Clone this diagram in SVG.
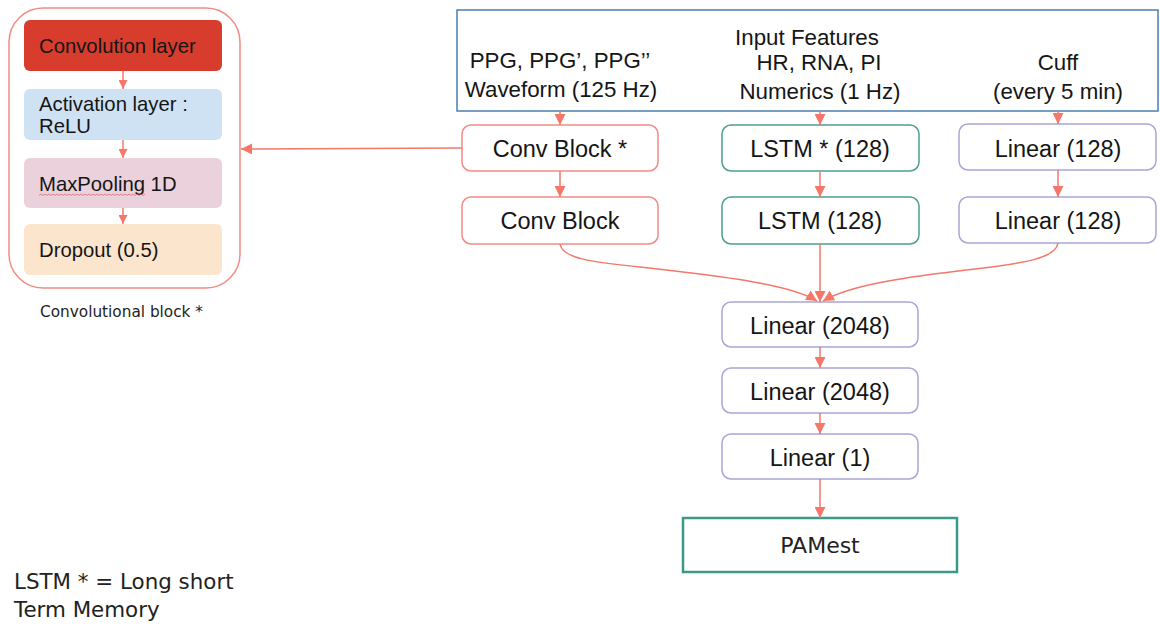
<svg xmlns="http://www.w3.org/2000/svg" width="1160" height="626" viewBox="0 0 1160 626">
<style>
text{font-family:"Liberation Sans",Arial,sans-serif;fill:#151515}
.geo{font-family:"DejaVu Sans","Liberation Sans",sans-serif;fill:#222}
.lbl{font-size:20.3px}
.box{font-size:23.5px;text-anchor:middle}
.inp{font-size:22.3px;text-anchor:middle}
.conv{fill:#fff;stroke:#f28b82;stroke-width:1.5}
.lstm{fill:#fff;stroke:#4d9e8f;stroke-width:1.5}
.lin{fill:#fff;stroke:#a9a5d8;stroke-width:1.5}
.edge{fill:none;stroke:#f4776a;stroke-width:1.5}
</style>
<defs>
<marker id="ah" markerUnits="userSpaceOnUse" markerWidth="11" markerHeight="11" refX="10" refY="5" orient="auto" viewBox="0 0 10 10">
<path d="M0,0 L10,5 L0,10 z" fill="#f4776a"/>
</marker>
<marker id="ahs" markerUnits="userSpaceOnUse" markerWidth="9" markerHeight="9" refX="10" refY="5" orient="auto" viewBox="0 0 10 10">
<path d="M0,0 L10,5 L0,10 z" fill="#f4776a"/>
</marker>
</defs>
<rect width="1160" height="626" fill="#fff"/>

<g id="conv-block-legend">
<rect x="9" y="8" width="231" height="280" rx="34" fill="#fff" stroke="#f28b82" stroke-width="1.5"/>
<g id="conv-layer"><rect x="24" y="20" width="198" height="51" rx="6" fill="#d83c2c"/><text class="lbl" x="39" y="53">Convolution layer</text></g>
<g id="act-layer"><rect x="24" y="89" width="198" height="51" rx="6" fill="#cfe2f3"/><text class="lbl" x="39" y="111">Activation layer :</text><text class="lbl" x="39" y="133">ReLU</text></g>
<g id="maxpool"><rect x="24" y="158" width="198" height="50" rx="6" fill="#ead1dc"/><text class="lbl" x="39" y="191">MaxPooling 1D</text>
<path d="M39,195.5 l2,-1.5 l2,1.5 l2,-1.5 l2,1.5 l2,-1.5 l2,1.5 l2,-1.5 l2,1.5 l2,-1.5 l2,1.5 l2,-1.5 l2,1.5 l2,-1.5 l2,1.5 l2,-1.5 l2,1.5 l2,-1.5 l2,1.5 l2,-1.5 l2,1.5 l2,-1.5 l2,1.5 l2,-1.5 l2,1.5 l2,-1.5 l2,1.5 l2,-1.5 l2,1.5 l2,-1.5 l2,1.5 l2,-1.5 l2,1.5 l2,-1.5 l2,1.5 l2,-1.5 l2,1.5 l2,-1.5 l2,1.5 l2,-1.5 l2,1.5 l2,-1.5 l2,1.5 l2,-1.5 l2,1.5 l2,-1.5 l2,1.5 l2,-1.5 l2,1.5 l2,-1.5 l2,1.5 l2,-1.5 l2,1.5 l2,-1.5" fill="none" stroke="#e06a6a" stroke-width="0.8"/></g>
<g id="dropout"><rect x="24" y="224" width="198" height="51" rx="6" fill="#fce5cd"/><text class="lbl" x="39" y="257">Dropout (0.5)</text></g>
</g>
<text class="geo" x="40" y="317" font-size="15.3">Convolutional block *</text>

<g id="input-features">
<rect x="457" y="10" width="701" height="101" fill="#fff" stroke="#4a7fb0" stroke-width="1.5"/>
<text class="inp" x="807" y="45" font-size="23.3">Input Features</text>
<text class="inp" x="560" y="68">PPG, PPG’, PPG’’</text>
<text class="inp" x="561" y="97">Waveform (125 Hz)</text>
<text class="inp" x="819" y="70">HR, RNA, PI</text>
<text class="inp" x="820" y="99">Numerics (1 Hz)</text>
<text class="inp" x="1058" y="70">Cuff</text>
<text class="inp" x="1058" y="99">(every 5 min)</text>
</g>

<g id="conv1"><rect class="conv" x="462" y="125" width="196" height="46" rx="9"/><text class="box" x="560" y="157">Conv Block *</text></g>
<g id="conv2"><rect class="conv" x="462" y="197" width="196" height="47" rx="9"/><text class="box" x="560" y="229">Conv Block</text></g>
<g id="lstm1"><rect class="lstm" x="722" y="125" width="197" height="46" rx="9"/><text class="box" x="820" y="157">LSTM * (128)</text></g>
<g id="lstm2"><rect class="lstm" x="722" y="197" width="197" height="47" rx="9"/><text class="box" x="820" y="229">LSTM (128)</text></g>
<g id="lin128a"><rect class="lin" x="959" y="124" width="197" height="46" rx="9"/><text class="box" x="1058" y="157">Linear (128)</text></g>
<g id="lin128b"><rect class="lin" x="959" y="197" width="197" height="46" rx="9"/><text class="box" x="1058" y="229">Linear (128)</text></g>
<g id="lin2048a"><rect class="lin" x="722" y="302" width="196" height="45" rx="9"/><text class="box" x="820" y="334">Linear (2048)</text></g>
<g id="lin2048b"><rect class="lin" x="722" y="368" width="196" height="45" rx="9"/><text class="box" x="820" y="400">Linear (2048)</text></g>
<g id="lin1"><rect class="lin" x="722" y="434" width="196" height="45" rx="9"/><text class="box" x="820" y="466">Linear (1)</text></g>
<g id="pamest"><rect x="683" y="518" width="274" height="54" fill="#fff" stroke="#3a9a8a" stroke-width="2.5"/><text class="geo" x="820" y="553" font-size="22" text-anchor="middle">PAMest</text></g>

<g id="legend-lstm">
<text class="geo" x="14" y="589" font-size="21.4">LSTM * = Long short</text>
<text class="geo" x="14" y="617" font-size="21.4">Term Memory</text>
</g>

<g id="connectors">
<path class="edge" d="M123,71 L123,89" marker-end="url(#ahs)"/>
<path class="edge" d="M123,140 L123,158" marker-end="url(#ahs)"/>
<path class="edge" d="M123,208 L123,224" marker-end="url(#ahs)"/>
<path class="edge" d="M462,148 L241,149" marker-end="url(#ah)"/>
<path class="edge" d="M560,111 L560,125" marker-end="url(#ah)"/>
<path class="edge" d="M820,111 L820,125" marker-end="url(#ah)"/>
<path class="edge" d="M1058,111 L1058,124" marker-end="url(#ah)"/>
<path class="edge" d="M560,171 L560,197" marker-end="url(#ah)"/>
<path class="edge" d="M820,171 L820,197" marker-end="url(#ah)"/>
<path class="edge" d="M1058,170 L1058,197" marker-end="url(#ah)"/>
<path class="edge" d="M560,244 C562,258 590,262 640,267 C720,276 790,284 817,301" marker-end="url(#ah)"/>
<path class="edge" d="M820,244 L820,302" marker-end="url(#ah)"/>
<path class="edge" d="M1058,243 C1056,258 1025,263 975,269 C905,277 850,285 823,301" marker-end="url(#ah)"/>
<path class="edge" d="M820,347 L820,368" marker-end="url(#ah)"/>
<path class="edge" d="M820,413 L820,434" marker-end="url(#ah)"/>
<path class="edge" d="M820,479 L820,518" marker-end="url(#ah)"/>
</g>
</svg>
